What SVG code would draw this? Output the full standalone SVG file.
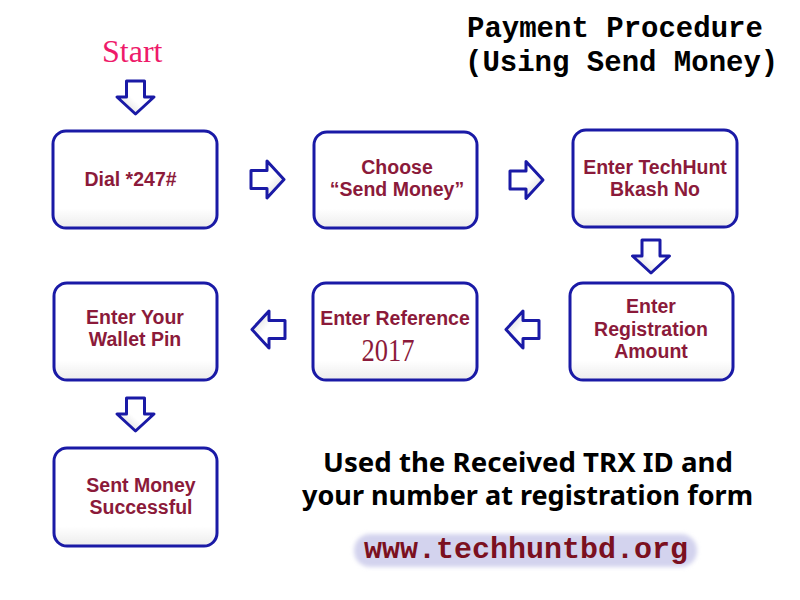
<svg xmlns="http://www.w3.org/2000/svg" width="800" height="600" viewBox="0 0 800 600">
<style>
.box{fill:url(#boxfill);stroke:#1a1aa6;stroke-width:3}
.lbl{font-family:"Liberation Sans",Arial,sans-serif;font-weight:bold;font-size:19.5px;fill:#8b1a3a;text-anchor:middle}
.arrow{fill:url(#arrfill);stroke:#1a1aa6;stroke-width:3;stroke-linejoin:round}
.title{font-family:"Liberation Mono","Courier New",monospace;font-weight:bold;font-size:29px;fill:#000}
.note{font-family:"Noto Sans","Open Sans",sans-serif;font-weight:bold;font-size:26px;fill:#000}
</style>
<defs>
<linearGradient id="boxfill" x1="0" y1="0" x2="0" y2="1">
<stop offset="0" stop-color="#ffffff"/><stop offset="0.8" stop-color="#ffffff"/><stop offset="1" stop-color="#ececec"/>
</linearGradient>
<linearGradient id="arrfill" x1="0" y1="0" x2="1" y2="1">
<stop offset="0" stop-color="#ffffff"/><stop offset="0.55" stop-color="#ffffff"/><stop offset="1" stop-color="#cfcfcf"/>
</linearGradient>
<filter id="glow" x="-10%" y="-30%" width="120%" height="160%"><feGaussianBlur stdDeviation="2"/></filter>
<path id="rarrow" class="arrow" d="M0,-9 L16,-9 L16,-18.5 L33,0 L16,18.5 L16,9 L0,9 Z"/>
</defs>
<rect width="800" height="600" fill="#ffffff"/>

<g id="title">
<text class="title" x="467" y="37">Payment Procedure</text>
<text class="title" x="465" y="71">(Using Send Money)</text>
</g>
<g id="start">
<text x="102" y="62" font-family="Liberation Serif,Times New Roman,serif" font-size="32" fill="#ee1a6a">Start</text>
</g>

<g id="connectors">
<use href="#rarrow" transform="translate(135.5,81) rotate(90)"/>
<use href="#rarrow" transform="translate(251,179.5)"/>
<use href="#rarrow" transform="translate(510,180)"/>
<use href="#rarrow" transform="translate(651,240) rotate(90)"/>
<use href="#rarrow" transform="translate(539,329.5) rotate(180)"/>
<use href="#rarrow" transform="translate(285,329.5) rotate(180)"/>
<use href="#rarrow" transform="translate(135.5,398) rotate(90)"/>
</g>

<g id="node-dial">
<rect class="box" x="53" y="131" width="164" height="97" rx="13"/>
<text class="lbl" x="130.5" y="186">Dial *247#</text>
</g>
<g id="node-choose">
<rect class="box" x="314" y="132" width="163" height="96" rx="13"/>
<text class="lbl" x="397" y="174">Choose</text>
<text class="lbl" x="397" y="196">“Send Money”</text>
</g>
<g id="node-techhunt">
<rect class="box" x="573" y="130" width="164" height="97" rx="13"/>
<text class="lbl" x="655" y="174">Enter TechHunt</text>
<text class="lbl" x="655" y="196">Bkash No</text>
</g>
<g id="node-amount">
<rect class="box" x="570" y="283" width="163" height="97" rx="13"/>
<text class="lbl" x="651" y="313">Enter</text>
<text class="lbl" x="651" y="336">Registration</text>
<text class="lbl" x="651" y="358">Amount</text>
</g>
<g id="node-reference">
<rect class="box" x="313" y="283" width="164" height="97" rx="13"/>
<text class="lbl" x="395" y="325">Enter Reference</text>
<text x="388" y="361" font-family="Liberation Serif,Times New Roman,serif" font-size="31" fill="#8b1a3a" text-anchor="middle" textLength="53" lengthAdjust="spacingAndGlyphs">2017</text>
</g>
<g id="node-pin">
<rect class="box" x="54" y="283" width="163" height="97" rx="13"/>
<text class="lbl" x="135" y="324">Enter Your</text>
<text class="lbl" x="135" y="346">Wallet Pin</text>
</g>
<g id="node-success">
<rect class="box" x="54" y="448" width="163" height="98" rx="13"/>
<text class="lbl" x="141" y="492">Sent Money</text>
<text class="lbl" x="141" y="514">Successful</text>
</g>

<g id="note">
<text class="note" x="323" y="472" textLength="410" lengthAdjust="spacingAndGlyphs">Used the Received TRX ID and</text>
<text class="note" x="302" y="505" textLength="451" lengthAdjust="spacingAndGlyphs">your number at registration form</text>
</g>
<g id="website">
<rect x="354" y="534" width="343" height="33" rx="16" fill="#d3d3ee" filter="url(#glow)"/>
<text x="364" y="558" font-family="Liberation Mono,Courier New,monospace" font-weight="bold" font-size="30" fill="#7b1020">www.techhuntbd.org</text>
</g>
</svg>
